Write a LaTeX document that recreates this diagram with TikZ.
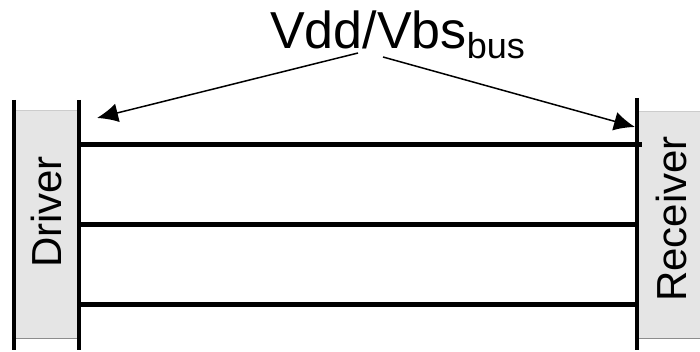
\documentclass[tikz,border=0pt]{standalone}
\usepackage{fontspec}
\setmainfont{Liberation Sans}
\usetikzlibrary{arrows.meta}
\begin{document}
\begin{tikzpicture}[x=1pt,y=1pt,
  rail/.style={line width=4.5pt},
  busline/.style={line width=5pt},
  pointer/.style={line width=1.5pt, -{Latex[length=21pt,width=19pt]}},
  lbl/.style={font=\fontsize{42}{42}\selectfont, inner sep=0pt, rotate=90}]
\useasboundingbox (0,0) rectangle (700,352);
% boxes (y = 352 - image y)
\fill[black!10] (14,13) rectangle (79,242);
\draw[black!45, line width=1pt] (14,13) -- (79,13);
\draw[black!20, line width=0.6pt] (14,242) -- (79,242);
\fill[black!10] (637,13) rectangle (700,241);
\draw[black!45, line width=1pt] (637,13) -- (700,13);
\draw[black!20, line width=0.6pt] (637,241) -- (700,241);
\node[lbl] (drv) at (46,140) {Driver};
\node[lbl] (rcv) at (671,133) {Receiver};
% rails
\coordinate (dlt) at (14,252); \coordinate (dlb) at (14,2);
\coordinate (drt) at (79,252); \coordinate (drb) at (79,2);
\coordinate (rt) at (637,254); \coordinate (rb) at (637,2);
\draw[rail] (dlt) -- (dlb);
\draw[rail] (drt) -- (drb);
\draw[rail] (rt) -- (rb);
% bus lines
\coordinate (b1s) at (77,207); \coordinate (b1e) at (642,207);
\coordinate (b2s) at (77,127); \coordinate (b2e) at (637,127);
\coordinate (b3s) at (77,47);  \coordinate (b3e) at (637,47);
\draw[busline] (b1s) -- (b1e);
\draw[busline] (b2s) -- (b2e);
\draw[busline] (b3s) -- (b3e);
% label
\node[anchor=base west, inner sep=0pt, font=\fontsize{52}{52}\selectfont] (vdd) at (270,303)
  {Vdd/Vbs\raisebox{-10pt}{\fontsize{36}{36}\selectfont bus}};
\coordinate (ls) at (358,299); \coordinate (lt) at (97,234);
\coordinate (rs) at (383,295); \coordinate (rtp) at (635,225);
\draw[pointer] (ls) -- (lt);
\draw[pointer] (rs) -- (rtp);
\end{tikzpicture}
\end{document}
